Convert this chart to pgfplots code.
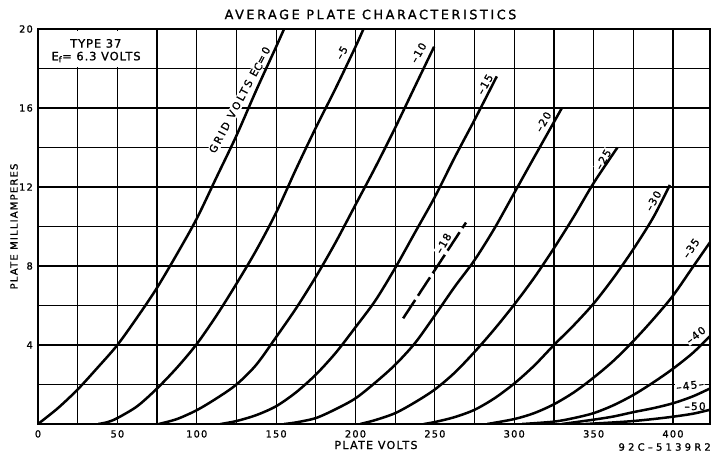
\documentclass[border=0pt]{standalone}
\usepackage{fontspec}
\setmainfont{DejaVu Sans}
\newfontfamily\ttlfont[LetterSpace=20,FakeBold=1.2]{DejaVu Sans}
\newfontfamily\lblfont[LetterSpace=12,FakeBold=1.2]{DejaVu Sans}
\newfontfamily\codefont[LetterSpace=32,FakeBold=1.2]{DejaVu Sans}
\newfontfamily\gridfont[LetterSpace=22,FakeBold=1.2]{DejaVu Sans}
\newfontfamily\boxfont[LetterSpace=8,FakeBold=1.2]{DejaVu Sans}
\usepackage{pgfplots}
\pgfplotsset{compat=1.18}
\tikzset{
  curve/.style={black, line width=2.5bp, smooth},
  lab/.style={fill=white, inner sep=0.8bp, font=\lblfont\fontsize{10.5bp}{11bp}\selectfont},
}

\begin{document}
\begin{tikzpicture}
\path[use as bounding box] (-38bp,-28bp) rectangle (673bp,424bp);
\begin{axis}[
  at={(0,0)}, anchor=south west,
  scale only axis, width=672bp, height=395bp,
  xmin=0, xmax=423.3, ymin=0, ymax=20,
  xtick={0,50,...,400}, minor xtick={25,75,...,425},
  ytick={4,8,...,20}, minor ytick={2,6,...,18},
  grid=both,
  major grid style={black, line width=1.2bp},
  minor grid style={black, line width=1.2bp},
  axis line style={black, line width=1.6bp},
  major tick length=0pt, minor tick length=0pt,
  /pgf/number format/assume math mode=true,
  /pgf/number format/1000 sep={},
  ticklabel style={font=\lblfont\fontsize{9.8bp}{10bp}\selectfont, inner sep=0pt},
  xticklabel style={anchor=north, yshift=-6bp},
  yticklabel style={anchor=east, xshift=-5bp},
]
% blank type box
\fill[white] (axis cs:1.1,18.09) rectangle (axis cs:73.9,19.91);
\node[inner sep=0pt, font=\boxfont\fontsize{11.5bp}{12bp}\selectfont] at (axis cs:36.4,19.27) {TYPE 37};
\node[inner sep=0pt, font=\boxfont\fontsize{11.5bp}{12bp}\selectfont] at (axis cs:36.6,18.58) {E\textsubscript{f}= 6.3 VOLTS};

% curve labels
\node[fill=white, inner sep=0.8bp, font=\gridfont\fontsize{10.5bp}{11bp}\selectfont, rotate=62] at (axis cs:127.2,16.4) {GRID VOLTS E\raisebox{-1bp}{C}=0};
\node[lab, rotate=60] at (axis cs:191.3,18.8) {–5};
\node[lab, rotate=60] at (axis cs:239.6,18.8) {–10};
\node[lab, rotate=60] at (axis cs:281.6,17.2) {–15};
\node[lab, rotate=60] at (axis cs:318.3,15.3) {–20};
\node[lab, rotate=60] at (axis cs:356,13.4) {–25};
\node[lab, rotate=60] at (axis cs:387.6,11.3) {–30};
\node[lab, rotate=55] at (axis cs:411.3,8.9) {–35};
\node[lab, rotate=60] at (axis cs:255.3,9.15) {–18};
\node[lab, rotate=38] at (axis cs:414.4,4.5) {–40};
\node[lab, rotate=8] at (axis cs:410.7,1.95) {–45–};
\node[lab, rotate=0] at (axis cs:413.9,0.9) {–50};

% Ec = 0
\addplot[curve] coordinates {(0,0)(12.5,0.8)(25,1.75)(37.5,2.85)(50,4.0)(62.5,5.4)(75,6.9)(87.5,8.6)(100,10.4)(112.5,12.5)(125,14.6)(137.5,16.9)(150,19.1)(155,20)};
% Ec = -5
\addplot[curve] coordinates {(38,0)(44,0.1)(50,0.3)(62.5,0.9)(75,1.8)(87.5,2.85)(100,4.05)(112.5,5.5)(125,7.1)(137.5,8.8)(150,10.7)(162.5,12.9)(175,15.0)(187.5,17.0)(200,19.1)(205,20)};
% Ec = -10
\addplot[curve] coordinates {(76,0)(87.5,0.25)(100,0.7)(112.5,1.3)(125,2.0)(137.5,3.0)(150,4.4)(162.5,5.85)(175,7.45)(187.5,9.2)(200,11.1)(212.5,13.0)(225,15.0)(237.5,17.1)(249.5,19.1)};
% Ec = -15
\addplot[curve] coordinates {(115,0)(125,0.15)(137.5,0.45)(150,0.9)(162.5,1.6)(175,2.5)(187.5,3.6)(200,4.9)(212.5,6.25)(225,7.9)(237.5,9.7)(250,11.5)(262.5,13.5)(275,15.4)(289,17.6)};
% Ec = -20
\addplot[curve] coordinates {(155,0)(162.5,0.08)(175,0.3)(187.5,0.75)(200,1.3)(212.5,2.1)(225,3.0)(237.5,4.1)(250,5.5)(262.5,6.95)(275,8.3)(287.5,9.9)(300,11.7)(312.5,13.5)(330,16)};
% Ec = -25
\addplot[curve] coordinates {(203,0)(212.5,0.2)(225,0.55)(237.5,1.1)(250,1.75)(262.5,2.6)(275,3.65)(287.5,4.8)(300,6.05)(312.5,7.4)(325,8.9)(337.5,10.5)(350,12.2)(365,14.0)};
% Ec = -30
\addplot[curve] coordinates {(243,0)(250,0.1)(262.5,0.35)(275,0.72)(287.5,1.3)(300,2.05)(312.5,2.95)(325,4.0)(337.5,5.0)(350,6.1)(362.5,7.4)(375,8.85)(387.5,10.45)(398,12.1)};
% Ec = -35
\addplot[curve] coordinates {(283,0)(300,0.25)(312.5,0.55)(325,1.0)(337.5,1.6)(350,2.35)(362.5,3.2)(375,4.2)(387.5,5.3)(400,6.5)(412.5,7.95)(423.3,9.2)};
% Ec = -40
\addplot[curve] coordinates {(305,0)(325,0.12)(337.5,0.3)(350,0.55)(362.5,0.95)(375,1.47)(387.5,2.1)(400,2.8)(412.5,3.6)(423.3,4.45)};
% Ec = -45
\addplot[curve] coordinates {(330,0)(350,0.22)(362.5,0.38)(375,0.6)(387.5,0.8)(400,1.05)(412.5,1.4)(423.3,1.8)};
% Ec = -50
\addplot[curve] coordinates {(345,0)(362.5,0.08)(375,0.15)(387.5,0.25)(400,0.37)(412.5,0.52)(423.3,0.72)};
% Ec = -18 (dashed)
\addplot[black, line width=2.5bp, dash pattern=on 22bp off 5bp] coordinates {(230,5.35)(250,7.8)(269.6,10.2)};
\end{axis}
\node[inner sep=0pt, font=\ttlfont\fontsize{12.8bp}{14bp}\selectfont] at (332.5bp,409.5bp) {AVERAGE PLATE CHARACTERISTICS};
\node[inner sep=0pt, font=\lblfont\fontsize{11bp}{12bp}\selectfont] at (338bp,-21bp) {PLATE VOLTS};
\node[inner sep=0pt, rotate=90, font=\lblfont\fontsize{10bp}{12bp}\selectfont] at (-24bp,197.5bp) {PLATE MILLIAMPERES};
\node[inner sep=0pt, anchor=east, font=\codefont\fontsize{10bp}{12bp}\selectfont] at (673bp,-23bp) {92C–5139R2};
\end{tikzpicture}
\end{document}
